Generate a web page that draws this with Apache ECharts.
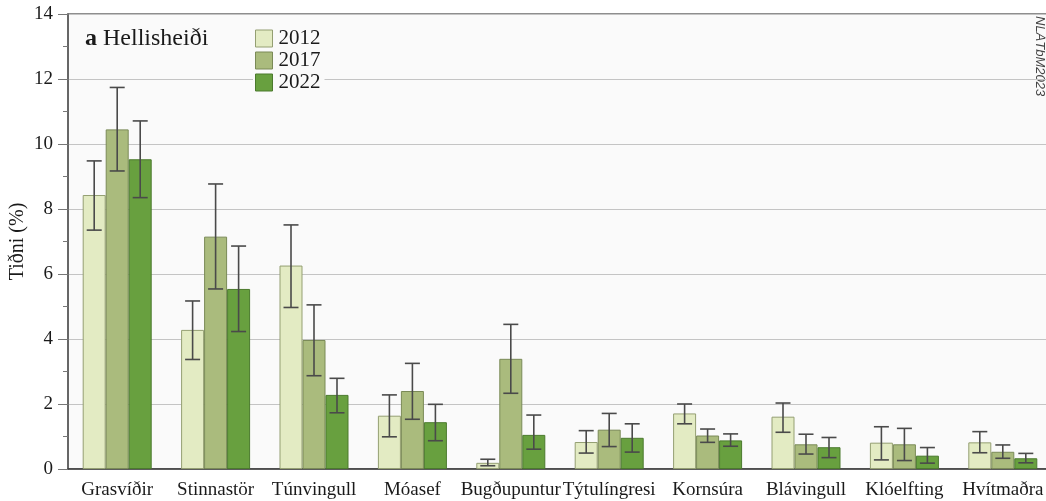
<!DOCTYPE html>
<html>
<head>
<meta charset="utf-8">
<script src="https://cdn.jsdelivr.net/npm/echarts@6/dist/echarts.min.js"></script>
<style>
  html, body { margin: 0; padding: 0; background: #fff; }
  #chart { width: 1046px; height: 501px; }
</style>
</head>
<body>
<div id="chart"></div>
<script>
// tegundir
var categories = ['Grasvíðir', 'Stinnastör', 'Túnvingull', 'Móasef', 'Bugðupuntur',
  'Týtulíngresi', 'Kornsúra', 'Blávingull', 'Klóelfting', 'Hvítmaðra'];
var years = ['2012', '2017', '2022'];

var values2012 = [8.43, 4.28, 6.26, 1.64, 0.19, 0.83, 1.71, 1.61, 0.81, 0.82];
var low2012 = [7.35, 3.37, 4.97, 0.99, 0.10, 0.49, 1.39, 1.13, 0.28, 0.50];
var high2012 = [9.48, 5.17, 7.51, 2.28, 0.30, 1.18, 2.00, 2.03, 1.30, 1.15];

var values2017 = [10.45, 7.15, 3.97, 2.40, 3.39, 1.21, 1.03, 0.76, 0.76, 0.53];
var low2017 = [9.17, 5.54, 2.87, 1.53, 2.33, 0.69, 0.82, 0.46, 0.26, 0.33];
var high2017 = [11.74, 8.77, 5.05, 3.25, 4.45, 1.71, 1.23, 1.07, 1.25, 0.74];

var values2022 = [9.53, 5.54, 2.28, 1.44, 1.05, 0.96, 0.88, 0.67, 0.41, 0.33];
var low2022 = [8.35, 4.23, 1.73, 0.87, 0.61, 0.52, 0.70, 0.35, 0.18, 0.19];
var high2022 = [10.71, 6.86, 2.79, 1.99, 1.66, 1.39, 1.08, 0.97, 0.66, 0.48];

var yTicks = [0, 2, 4, 6, 8, 10, 12, 14];

var fills = ['#e3ebc3', '#aabb7d', '#68a03f'];
var borders = ['#949f72', '#7a8a57', '#4b7a2d'];
var serif = '"Liberation Serif", "DejaVu Serif", serif';
var barW = 23;

var chart = echarts.init(document.getElementById('chart'));

function errSeries(low, high, k) {
  var data = categories.map(function (c, i) { return [i, low[i], high[i]]; });
  return {
    type: 'custom',
    name: years[k] + ' err',
    data: data,
    z: 5,
    silent: true,
    renderItem: function (params, api) {
      var off = (k - 1) * barW;
      var lo = api.coord([api.value(0), api.value(1)]);
      var hi = api.coord([api.value(0), api.value(2)]);
      var x = lo[0] + off;
      var cap = 7.5;
      var st = { stroke: '#4a4a4a', lineWidth: 1.6 };
      return {
        type: 'group',
        children: [
          { type: 'line', shape: { x1: x, y1: lo[1], x2: x, y2: hi[1] }, style: st },
          { type: 'line', shape: { x1: x - cap, y1: lo[1], x2: x + cap, y2: lo[1] }, style: st },
          { type: 'line', shape: { x1: x - cap, y1: hi[1], x2: x + cap, y2: hi[1] }, style: st }
        ]
      };
    }
  };
}

function barSeries(vals, k) {
  return {
    type: 'bar',
    name: years[k],
    data: vals,
    barWidth: barW,
    barGap: '0%',
    itemStyle: { color: fills[k], borderColor: borders[k], borderWidth: 1 }
  };
}

var option = {
  backgroundColor: '#ffffff',
  animation: false,
  grid: {
    left: 68, top: 14, width: 984, height: 455,
    outerBoundsMode: 'none',
    containLabel: false,
    show: true, backgroundColor: '#fafafa',
    borderColor: '#6a6a6a', borderWidth: 1.5
  },
  title: {
    text: '{b|a} Hellisheiði',
    left: 80, top: 22,
    textStyle: {
      fontFamily: serif, fontSize: 24, fontWeight: 'normal', color: '#1a1a1a',
      rich: { b: { fontFamily: serif, fontSize: 24, fontWeight: 'bold', color: '#1a1a1a' } }
    }
  },
  legend: {
    data: years,
    orient: 'vertical',
    left: 253, top: 26,
    itemWidth: 17, itemHeight: 17, itemGap: 1,
    padding: [2, 4, 2, 2],
    backgroundColor: '#fafafa',
    icon: 'rect',
    textStyle: { fontFamily: serif, fontSize: 21, color: '#1a1a1a', lineHeight: 20, padding: [0, 0, 0, 1] },
    itemStyle: { borderWidth: 1 }
  },
  xAxis: {
    type: 'category',
    data: categories,
    axisLine: { lineStyle: { color: '#3a3a3a', width: 1.5 } },
    axisTick: { alignWithLabel: true, length: 8, lineStyle: { color: '#555' } },
    axisLabel: {
      interval: 0, hideOverlap: false, margin: 12,
      fontFamily: serif, fontSize: 19, color: '#1a1a1a'
    },
    splitLine: { show: false }
  },
  yAxis: {
    type: 'value',
    min: yTicks[0], max: yTicks[yTicks.length - 1], interval: 2,
    name: 'Tiðni (%)',
    nameLocation: 'middle',
    nameGap: 40,
    nameMoveOverlap: false,
    nameTextStyle: { fontFamily: serif, fontSize: 20, color: '#1a1a1a' },
    axisLine: { show: true, lineStyle: { color: '#5a5a5a', width: 1.5 } },
    axisTick: { show: true, length: 10, lineStyle: { color: '#777' } },
    minorTick: { show: true, splitNumber: 2, length: 5, lineStyle: { color: '#777' } },
    axisLabel: { fontFamily: serif, fontSize: 19, color: '#1a1a1a', margin: 15 },
    splitLine: { lineStyle: { color: '#c4c4c4', width: 1.2 } }
  },
  graphic: [{
    type: 'text',
    left: 1033, top: 16,
    rotation: -Math.PI / 2,
    style: {
      text: 'NLÁTbM2023',
      fontFamily: '"Liberation Sans", Arial, sans-serif',
      fontStyle: 'italic', fontSize: 13, fill: '#444'
    }
  }],
  series: [
    barSeries(values2012, 0),
    barSeries(values2017, 1),
    barSeries(values2022, 2),
    errSeries(low2012, high2012, 0),
    errSeries(low2017, high2017, 1),
    errSeries(low2022, high2022, 2)
  ]
};

chart.setOption(option);
</script>
</body>
</html>
